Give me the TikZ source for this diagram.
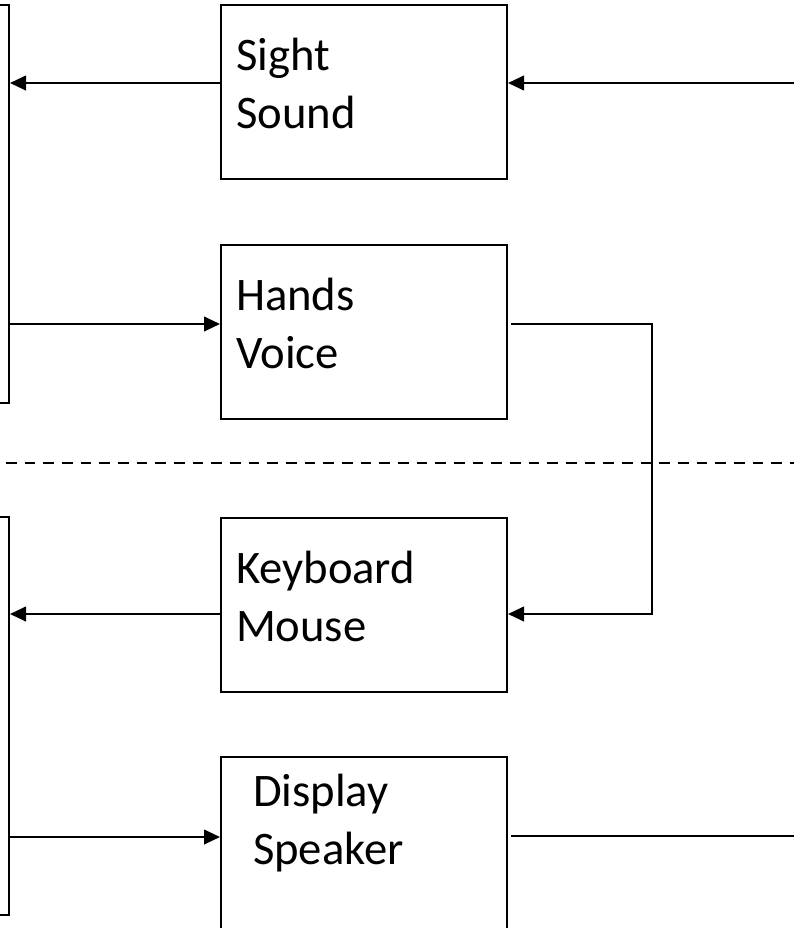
\documentclass[tikz,border=0pt]{standalone}
\usepackage{fontspec}
\setmainfont{Carlito}
\usepackage{tikz}
\usetikzlibrary{arrows.meta, positioning, calc}

\begin{document}
\begin{tikzpicture}[
    x=0.75pt, y=-0.75pt,
    node distance=48pt,
    box/.style={rectangle, draw, line width=1.5pt,
                minimum width=214.5pt, inner xsep=11.25pt, inner ysep=0pt,
                text width=192pt, align=left,
                text height=48.75pt, text depth=81.75pt,
                font=\fontsize{35pt}{43.5pt}\selectfont},
    lowbox/.style={box, inner xsep=24pt, text width=166.5pt,
                text height=36.75pt, text depth=113.25pt},
    bar/.style={rectangle, draw, line width=1.5pt,
                minimum width=100pt, minimum height=298.5pt},
    arr/.style={-{Triangle[length=12pt, width=11pt]}, line width=1.5pt},
    line/.style={line width=1.5pt}
]
\useasboundingbox (0,0) rectangle (794,928);

\node[bar, anchor=north east] (human)    at (10,4)   {};
\node[bar, anchor=north east] (computer) at (10,516) {};

\node[box, anchor=north west] (sight) at (220,4) {Sight\\Sound};
\node[box, below=of sight]           (hands) {Hands\\Voice};
\node[box, below=72.75pt of hands]   (keyb)  {Keyboard\\Mouse};
\node[lowbox, anchor=north west] (disp) at (220,756) {Display\\Speaker};

\draw[line, dash pattern=on 8pt off 6pt] (6,462.7) -- (794,462.7);

\coordinate (sin)  at (794,83);
\coordinate (hin)  at ([yshift=6pt]hands.west);
\coordinate (hout) at ([yshift=6pt]hands.east);
\coordinate (kin)  at ([yshift=-6.75pt]keyb.east);
\coordinate (turn) at (652,0);
\coordinate (din)  at ([yshift=15pt]disp.west);
\coordinate (dout) at (794,836);

\draw[arr] (sin) -- (sight.east |- sin);
\draw[arr] (sight.west |- sin) -- (human.east |- sin);
\draw[arr] (human.east |- hin) -- (hin);
\draw[arr] ([xshift=2.25pt]hout) -- (turn |- hout) -- (turn |- kin) -- (kin);
\draw[arr] (keyb.west |- kin) -- (computer.east |- kin);
\draw[arr] (computer.east |- din) -- (din);
\draw[line] ([xshift=2.25pt]disp.east |- dout) -- (dout);
\end{tikzpicture}
\end{document}
